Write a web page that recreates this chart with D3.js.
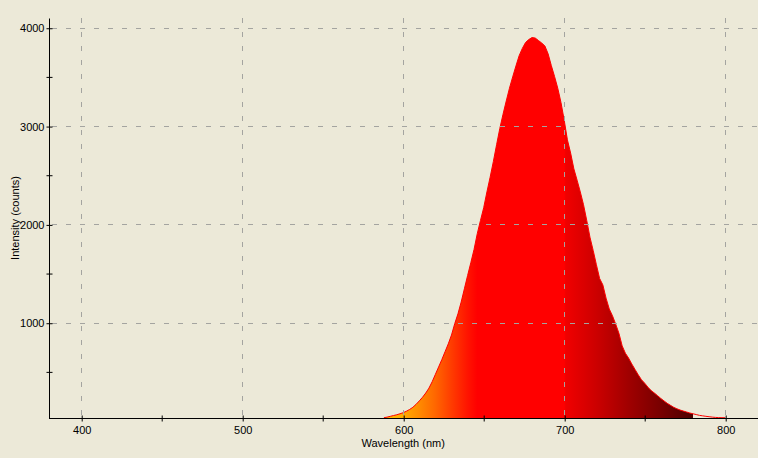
<!DOCTYPE html>
<html>
<head>
<meta charset="utf-8">
<script src="https://cdn.jsdelivr.net/npm/d3@7"></script>
<style>
  html, body { margin: 0; padding: 0; background: #ECE9D8; }
  svg { display: block; }
  text { font-family: "Liberation Sans", Arial, sans-serif; font-size: 11px; fill: #000; }
</style>
</head>
<body>
<svg id="chart" width="758" height="458"></svg>
<script>
// ---- data ----
const wavelengths = [588,590,592,594,596,598,600,602,604,606,608,610,612,614,616,618,620,622,624,626,628,630,
  632,634,636,638,640,642,644,646,648,650,652,654,656,658,660,662,664,666,668,670,672,674,676,678,680,682,684,686,
  688,690,692,694,696,698,700,702,704,706,708,710,712,714,716,718,720,722,724,726,728,730,732,734,736,738,740,742,
  744,746,748,750,752,754,756,758,760,762,764,766,768,770,772,774,776,778,780,782,784,786,788,790,792,794,796,798,800];
const intensity = [34,40,48,56,64,74,85,100,118,140,170,205,242,285,335,400,475,550,625,705,785,875,
  990,1090,1210,1345,1480,1610,1745,1905,2040,2170,2330,2480,2640,2810,2975,3120,3255,3385,3500,3610,3715,3790,3850,3880,3900,3895,3870,3845,
  3815,3735,3615,3505,3385,3240,3060,2860,2725,2565,2450,2330,2200,2040,1870,1735,1590,1450,1385,1250,1140,1070,985,892,765,690,640,580,
  525,470,420,385,345,310,285,258,230,205,180,160,140,125,112,102,92,82,74,66,58,53,48,44,40,37,35,34,34];
const xTicks = [400, 500, 600, 700, 800];
const xMinorTicks = [450, 550, 650, 750];
const yTicks = [1000, 2000, 3000, 4000];
const yMinorTicks = [500, 1500, 2500, 3500];
const colorStopWl = [588, 600, 610, 620, 630, 640, 646, 700, 701, 720, 740, 760, 780];
const colorStopCol = ["#FFC400","#FFAA00","#FF8A00","#FF6600","#FF3C00","#FF1400","#FF0000","#FF0000","#F00000","#CC0000","#A00000","#780000","#4C0000"];
const visibleLimit = 780;
const xLabel = "Wavelength (nm)";
const yLabel = "Intensity (counts)";

(function () {
// ---- layout ----
const svg = d3.select("#chart");
const pL = 49, pR = 757.4, pT = 18, pB = 418;
const x = d3.scaleLinear().domain([380, 820]).range([pL, pR]);
const y = d3.scaleLinear().domain([31, 4099]).range([pB, pT]);

const data = wavelengths.map((w, i) => ({ w, v: intensity[i] }));

// gradient
const defs = svg.append("defs");
const grad = defs.append("linearGradient")
  .attr("id", "spec").attr("gradientUnits", "userSpaceOnUse")
  .attr("x1", x(colorStopWl[0])).attr("x2", x(colorStopWl[colorStopWl.length - 1]))
  .attr("y1", 0).attr("y2", 0);
const wl0 = colorStopWl[0], wl1 = colorStopWl[colorStopWl.length - 1];
colorStopWl.forEach((w, i) => {
  grad.append("stop").attr("offset", (w - wl0) / (wl1 - wl0)).attr("stop-color", colorStopCol[i]);
});

// filled area (visible range only)
const area = d3.area().curve(d3.curveLinear)
  .x(d => x(d.w)).y0(pB).y1(d => y(d.v));
svg.append("path")
  .datum(data.filter(d => d.w <= visibleLimit))
  .attr("d", area)
  .attr("fill", "url(#spec)");

// outline
const line = d3.line().curve(d3.curveLinear).x(d => x(d.w)).y(d => y(d.v));
svg.append("path").datum(data).attr("d", line)
  .attr("fill", "none").attr("stroke", "#FF0000").attr("stroke-width", 1);

// grid (drawn over fill)
const grid = svg.append("g").attr("stroke", "#A4A4A0").attr("stroke-width", 1).attr("stroke-dasharray", "5,9");
grid.selectAll("line.v").data(xTicks).join("line").attr("class", "v")
  .attr("x1", d => Math.round(x(d)) + 0.5).attr("x2", d => Math.round(x(d)) + 0.5)
  .attr("y1", pT).attr("y2", pB);
grid.selectAll("line.h").data(yTicks).join("line").attr("class", "h")
  .attr("y1", d => Math.round(y(d)) + 0.5).attr("y2", d => Math.round(y(d)) + 0.5)
  .attr("x1", pL + 3).attr("x2", 758);

// axes
const xAxis = d3.axisBottom(x).tickValues(xTicks).tickSize(3).tickPadding(4).tickFormat(d3.format("d"));
const gx = svg.append("g").attr("transform", `translate(0.5,${pB + 0.5})`).call(xAxis);
gx.select(".domain").attr("d", `M${pL - 0.5},0H758`).attr("stroke", "#000");
gx.selectAll(".tick line").attr("y1", -3).attr("y2", 3).attr("stroke", "#000");
gx.selectAll(".tick text").attr("font-size", 11).attr("font-family", "Liberation Sans, Arial, sans-serif").attr("dy", "0.75em");
gx.selectAll("line.minor").data(xMinorTicks).join("line")
  .attr("class", "minor")
  .attr("x1", d => x(d)).attr("x2", d => x(d)).attr("y1", -3).attr("y2", 3).attr("stroke", "#000");

const yAxis = d3.axisLeft(y).tickValues(yTicks).tickSize(3).tickPadding(2).tickFormat(d3.format("d"));
const gy = svg.append("g").attr("transform", `translate(${pL + 0.5},0.5)`).call(yAxis);
gy.select(".domain").attr("d", `M0,${pT}V${pB}`).attr("stroke", "#000");
gy.selectAll(".tick line").attr("x1", -3).attr("x2", 3).attr("stroke", "#000");
gy.selectAll(".tick text").attr("font-size", 11).attr("font-family", "Liberation Sans, Arial, sans-serif");
gy.selectAll("line.minor").data(yMinorTicks).join("line")
  .attr("class", "minor")
  .attr("y1", d => y(d)).attr("y2", d => y(d)).attr("x1", -3).attr("x2", 3).attr("stroke", "#000");

// labels
svg.append("text").attr("x", (pL + pR) / 2).attr("y", 447)
  .attr("text-anchor", "middle").text(xLabel);
svg.append("text").attr("transform", `translate(19,218) rotate(-90)`)
  .attr("text-anchor", "middle").text(yLabel);
})();
</script>
</body>
</html>
